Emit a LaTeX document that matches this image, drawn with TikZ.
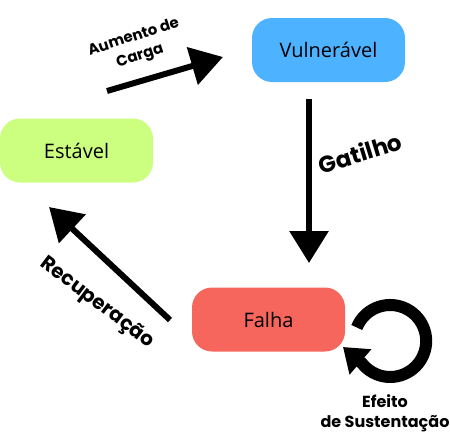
\documentclass[tikz,border=0pt]{standalone}
\usepackage{fontspec}
\setmainfont{Open Sans}
\newfontfamily\tagfont{Poppins}
\usetikzlibrary{arrows.meta}
\definecolor{vulblue}{RGB}{77,178,255}
\definecolor{estgreen}{RGB}{204,255,128}
\definecolor{falred}{RGB}{246,102,92}
\begin{document}
\begin{tikzpicture}[x=1pt, y=-1pt, line join=miter, font=\fontsize{20}{24}\selectfont]
				\tikzset{state/.style={rounded corners=20pt, minimum width=153pt, minimum height=64pt, inner sep=0pt},
				bigarrow/.style={line width=6pt, -{Triangle[length=32pt,width=38pt]}},
				tag/.style 2 args={font=\tagfont\bfseries\fontsize{#1}{#2}\selectfont, align=center, inner sep=0pt}}
				\useasboundingbox (0,0) rectangle (450,442);
				\node[state, fill=vulblue] (vul) at (328.5,50) {Vulnerável};
				\node[state, fill=estgreen] (est) at (76.5,150.5) {Estável};
				\node[state, fill=falred] (fal) at (268.5,319.5) {Falha};
				\coordinate (carga1) at (107,91); \coordinate (carga2) at (223,57);
				\coordinate (gat1) at (309,99); \coordinate (gat2) at (309,263);
				\coordinate (rec1) at (170,320); \coordinate (rec2) at (49,207);
				\coordinate (loop1) at (356.8,327.5); \coordinate (loop2) at (343,347);
				\draw[bigarrow] (carga1)--(carga2);
				\draw[bigarrow] (gat1)--(gat2);
				\draw[bigarrow] (rec1)--(rec2);
				\draw[line width=12pt, -{Triangle[length=23pt,width=32pt]}] (loop1) arc[start angle=-158, end angle=142, radius=36]--(loop2);
				\node[tag={15}{20}, rotate=18] (aum) at (137,47) {Aumento de\\Carga};
				\node[tag={23}{28}, rotate=17] (gatilho) at (360,153) {Gatilho};
				\node[tag={20}{24}, rotate=-37] (recup) at (97,303) {Recuperação};
				\node[tag={16}{20}] (efeito) at (385,413) {Efeito\\de Sustentação};
			\end{tikzpicture}
\end{document}
